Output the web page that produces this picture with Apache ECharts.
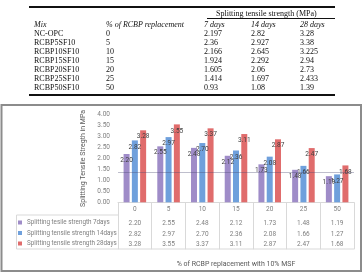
<!DOCTYPE html>
<html>
<head>
<meta charset="utf-8">
<script src="https://cdn.jsdelivr.net/npm/echarts@6.0.0/dist/echarts.min.js"></script>
<style>
  html, body { margin: 0; padding: 0; background: #fff; }
  #wrap { position: relative; width: 364px; height: 274px; overflow: hidden; }
  #chart { position: absolute; left: 0; top: 0; width: 364px; height: 274px; }
  #tbl { position: absolute; left: 0; top: 0; width: 364px; height: 100px; pointer-events: none;
         font-family: 'Liberation Serif', 'DejaVu Serif', serif; font-size: 8px; color: #111; }
  #tbl div { position: absolute; white-space: nowrap; line-height: 9px; }
  #tbl .rule { background: #111; height: 1px; }
  #tbl .thick { height: 2px; }
  #tbl .hd { font-style: italic; }
</style>
</head>
<body>
<div id="wrap">
  <div id="chart"></div>
  <div id="tbl"></div>
</div>
<script>
// top table (from the paper)
const mixes = ['NC-OPC', 'RCBP5SF10', 'RCBP10SF10', 'RCBP15SF10', 'RCBP20SF10', 'RCBP25SF10', 'RCBP50SF10'];
const replacement = ['0', '5', '10', '15', '20', '25', '50'];
const tbl7 = ['2.197', '2.36', '2.166', '1.924', '1.605', '1.414', '0.93'];
const tbl14 = ['2.82', '2.927', '2.645', '2.292', '2.06', '1.697', '1.08'];
const tbl28 = ['3.28', '3.38', '3.225', '2.94', '2.73', '2.433', '1.39'];
const tblHeaders = ['Mix', '% of RCBP replacement', '7 days', '14 days', '28 days'];

// chart data
const categories = ['0', '5', '10', '15', '20', '25', '50'];
const days7 = [2.20, 2.55, 2.48, 2.12, 1.73, 1.48, 1.19];
const days14 = [2.82, 2.97, 2.70, 2.36, 2.08, 1.66, 1.27];
const days28 = [3.28, 3.55, 3.37, 3.11, 2.87, 2.47, 1.68];
const seriesNames = [
  'Splitting tesile strength 7days',
  'Splitting tensile strength 14days',
  'Splitting tensile strength 28days'
];
const colors = ['#9f8cc8', '#6fa0dc', '#e06c6c'];

// --- top table
const tbl = document.getElementById('tbl');
const colX = [34, 106, 204, 251, 300];
const add = (cls, text, css) => {
  const d = document.createElement('div');
  d.className = cls;
  if (text) d.textContent = text;
  Object.assign(d.style, css);
  tbl.appendChild(d);
};
add('rule thick', '', { left: '29px', top: '6px', width: '306px' });
add('', 'Splitting tensile strength (MPa)', { left: '216px', top: '9px' });
add('rule', '', { left: '207px', top: '18px', width: '128px' });
tblHeaders.forEach((h, i) => add('hd', h, { left: colX[i] + 'px', top: '20px' }));
mixes.forEach((m, r) => {
  const top = 29 + r * 9.07;
  [m, replacement[r], tbl7[r], tbl14[r], tbl28[r]].forEach((v, i) => {
    add('', v, { left: colX[i] + 'px', top: top + 'px' });
  });
});
add('rule thick', '', { left: '29px', top: '94px', width: '306px' });

// --- chart
const chart = echarts.init(document.getElementById('chart'));
const font = 'Roboto, sans-serif';
const grey = '#7f7f7f';
const lineGrey = '#d9d9d9';

const makeSeries = (name, data, i) => ({
  name,
  type: 'bar',
  data,
  barWidth: 6,
  barGap: '38%',
  itemStyle: { color: colors[i] },
  label: {
    show: true,
    position: 'insideTop',
    distance: 3,
    fontFamily: font,
    fontSize: 6.5,
    color: '#404040',
    formatter: (p) => p.value.toFixed(2)
  }
});

const series = [
  makeSeries(seriesNames[0], days7, 0),
  makeSeries(seriesNames[1], days14, 1),
  makeSeries(seriesNames[2], days28, 2)
];
series[2].markLine = {
  silent: true,
  symbol: 'none',
  label: { show: false },
  lineStyle: { color: 'rgba(70,70,110,0.35)', type: 'solid', width: 1 },
  data: [{ yAxis: 1.35 }]
};

chart.setOption({
  animation: false,
  backgroundColor: 'transparent',
  textStyle: { fontFamily: font },
  grid: { left: 118, right: 10, top: 114.5, bottom: 71.7 },
  legend: {
    orient: 'vertical',
    left: 18,
    top: 218.5,
    padding: 0,
    itemWidth: 4,
    itemHeight: 4,
    itemGap: 2.5,
    icon: 'rect',
    textStyle: { fontSize: 6.3, color: grey, lineHeight: 8, fontFamily: font },
    data: seriesNames
  },
  xAxis: {
    type: 'category',
    data: categories,
    name: '% of RCBP replacement with 10% MSF',
    nameLocation: 'middle',
    nameGap: 58,
    nameTextStyle: { fontSize: 7, color: '#595959' },
    axisLine: { lineStyle: { color: lineGrey } },
    axisTick: { show: true, length: 47, lineStyle: { color: lineGrey } },
    axisLabel: { fontSize: 6.5, color: grey, margin: 4 }
  },
  yAxis: {
    type: 'value',
    min: 0,
    max: 4,
    interval: 0.5,
    name: 'Splitting Tensile Stregth in MPa',
    nameLocation: 'middle',
    nameRotate: 90,
    nameGap: 29,
    nameTextStyle: { fontSize: 7, color: '#595959' },
    axisLine: { show: false },
    axisTick: { show: false },
    splitLine: { show: false },
    axisLabel: { fontSize: 6.5, color: grey, margin: 8, formatter: (v) => v.toFixed(2) }
  },
  series
});

// data table below the axis, aligned to the category positions
const rowsY = [223.5, 234, 244.5];
const rowData = [days7, days14, days28];
const graphic = [
  {
    type: 'rect',
    shape: { x: 1.5, y: 105, width: 359.5, height: 166 },
    style: { fill: 'none', stroke: '#8c8c8c', lineWidth: 2 },
    silent: true
  },
  {
    type: 'polyline',
    shape: { points: [[118, 215], [16.5, 215], [16.5, 249], [354, 249]] },
    style: { fill: 'none', stroke: lineGrey, lineWidth: 1 },
    silent: true
  }
];
rowData.forEach((arr, r) => {
  arr.forEach((v, i) => {
    const x = chart.convertToPixel({ xAxisIndex: 0 }, categories[i]);
    graphic.push({
      type: 'text',
      x,
      y: rowsY[r],
      silent: true,
      style: {
        text: v.toFixed(2),
        fontSize: 6.5,
        fontFamily: font,
        fill: grey,
        align: 'center',
        verticalAlign: 'middle'
      }
    });
  });
});
chart.setOption({ graphic });
</script>
</body>
</html>
